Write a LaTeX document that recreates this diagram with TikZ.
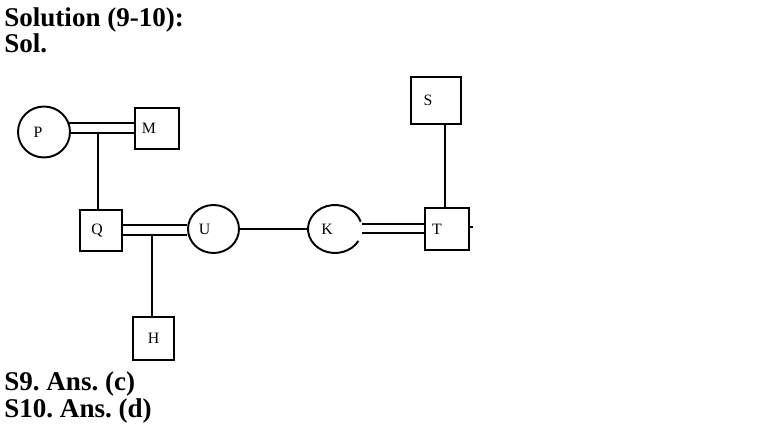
\documentclass[tikz,border=0pt]{standalone}
\usepackage{fontspec}
\setmainfont{Liberation Serif}
\usetikzlibrary{shapes.geometric}
\frenchspacing
\tikzset{
  box/.style={draw, rectangle, line width=1.1pt, inner sep=0pt},
  ring/.style={draw, ellipse, line width=1.1pt, inner sep=0pt},
  lbl/.style={font=\fontsize{9}{9}\selectfont, inner sep=0pt},
  link/.style={line width=1.1pt},
  head/.style={anchor=base west, inner sep=0pt, font=\fontsize{15.4}{15.4}\selectfont\bfseries}
}

\begin{document}
\begin{tikzpicture}[x=0.02cm, y=-0.02cm]
			%%%%% START %%%%%
			\useasboundingbox (0,0) rectangle (762,432);
			
			\node[head] (sol) at (4,27) {Solution (9-10):};
			\node[head] (solb) at (4,53) {Sol.};
			
			\node[ring, minimum width=1.04cm, minimum height=1.02cm, label={[lbl, xshift=-0.12cm]center:P}] (P) at (44,132) {};
			\node[box, minimum width=0.88cm, minimum height=0.82cm, label={[lbl, xshift=-0.16cm]center:M}] (M) at (157,128.5) {};
			\node[box, minimum width=0.84cm, minimum height=0.82cm, label={[lbl, xshift=-0.08cm]center:Q}] (Q) at (101,230.5) {};
			\node[box, minimum width=0.82cm, minimum height=0.86cm, label={[lbl]center:H}] (H) at (153.5,338.5) {};
			\node[ring, minimum width=1.02cm, minimum height=0.96cm, label={[lbl, xshift=-0.18cm]center:U}] (U) at (213.5,229) {};
			\node[ring, draw=none, minimum width=1.08cm, minimum height=0.96cm, label={[lbl, xshift=-0.16cm]center:K}] (K) at (335,229) {};
			\node[box, minimum width=0.88cm, minimum height=0.84cm, label={[lbl, xshift=-0.2cm]center:T}] (T) at (447,229) {};
			\node[box, minimum width=1.0cm, minimum height=0.94cm, label={[lbl, xshift=-0.16cm]center:S}] (S) at (436,100.5) {};
			
			% K is open on the right
			\draw[link] (K.center) ++(18:0.54cm and 0.48cm) arc[start angle=18, end angle=330, x radius=0.54cm, y radius=0.48cm];
			
			% double links
			\coordinate (pm1) at (69,123);
			\coordinate (pm2) at (70,133);
			\draw[link] (pm1) -- (pm1 -| M.west);
			\draw[link] (pm2) -- (pm2 -| M.west);
			
			\coordinate (qu1) at (122,225);
			\coordinate (qu2) at (122,235);
			\draw[link] (qu1) -- (qu1 -| U.west);
			\draw[link] (qu2) -- (qu2 -| U.west);
			
			\coordinate (kt1) at (362,224);
			\coordinate (kt2) at (362,233);
			\draw[link] (kt1) -- (kt1 -| T.west);
			\draw[link] (kt2) -- (kt2 -| T.west);
			
			% single links
			\coordinate (pq) at (98,133);
			\draw[link] (pq) -- (pq |- Q.north);
			\coordinate (qh) at (152,235);
			\draw[link] (qh) -- (qh |- H.north);
			\draw[link] (U.east) -- (K.west);
			\coordinate (st) at (445,0);
			\draw[link] (st |- S.south) -- (st |- T.north);
			\coordinate (tk) at (473,227);
			\draw[link] (tk -| T.east) -- (tk);
			
			\node[head] (ans9) at (4,391) {S9. Ans. (c)};
			\node[head] (ans10) at (4,418) {S10. Ans. (d)};
			
			%%%%% END %%%%%
\end{tikzpicture}
\end{document}
